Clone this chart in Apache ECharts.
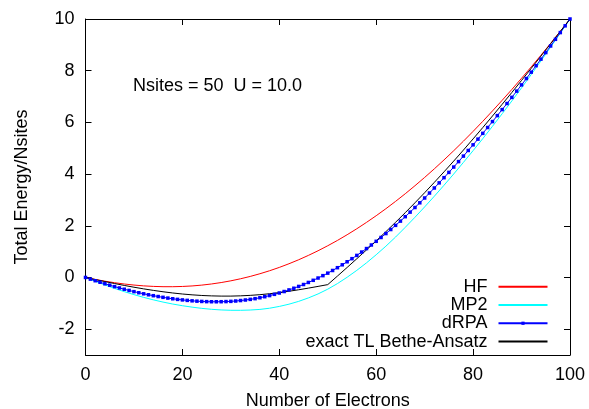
<!DOCTYPE html>
<html>
<head>
<meta charset="utf-8">
<script src="https://cdn.jsdelivr.net/npm/echarts@6/dist/echarts.min.js"></script>
<style>
  html, body { margin: 0; padding: 0; background: #fff; }
  #chart { width: 589px; height: 409px; }
</style>
</head>
<body>
<div id="chart"></div>
<script>
// number of electrons (x) for the line-only curves, every 2
const nEven = [0, 2, 4, 6, 8, 10, 12, 14, 16, 18, 20, 22, 24, 26, 28, 30, 32, 34, 36, 38, 40, 42, 44, 46, 48, 50,
  52, 54, 56, 58, 60, 62, 64, 66, 68, 70, 72, 74, 76, 78, 80, 82, 84, 86, 88, 90, 92, 94, 96, 98, 100]
// dRPA has a point at every electron count
const nAll = [0, 1, 2, 3, 4, 5, 6, 7, 8, 9, 10, 11, 12, 13, 14, 15, 16, 17, 18, 19, 20, 21, 22, 23, 24, 25,
  26, 27, 28, 29, 30, 31, 32, 33, 34, 35, 36, 37, 38, 39, 40, 41, 42, 43, 44, 45, 46, 47, 48, 49, 50,
  51, 52, 53, 54, 55, 56, 57, 58, 59, 60, 61, 62, 63, 64, 65, 66, 67, 68, 69, 70, 71, 72, 73, 74, 75,
  76, 77, 78, 79, 80, 81, 82, 83, 84, 85, 86, 87, 88, 89, 90, 91, 92, 93, 94, 95, 96, 97, 98, 99, 100]

const hf = [0, -0.076, -0.144, -0.203, -0.253, -0.294, -0.325, -0.346, -0.357, -0.358, -0.348, -0.328, -0.296,
  -0.252, -0.197, -0.130, -0.051, 0.040, 0.144, 0.260, 0.389, 0.531, 0.685, 0.853, 1.033, 1.227,
  1.433, 1.653, 1.885, 2.131, 2.389, 2.660, 2.944, 3.240, 3.549, 3.870, 4.203, 4.548, 4.904, 5.272,
  5.652, 6.042, 6.443, 6.854, 7.275, 7.707, 8.147, 8.597, 9.056, 9.524, 10]

const mp2 = [0, -0.146, -0.289, -0.423, -0.548, -0.664, -0.770, -0.866, -0.952, -1.028, -1.093, -1.148, -1.196,
  -1.232, -1.257, -1.270, -1.271, -1.260, -1.236, -1.190, -1.121, -1.034, -0.925, -0.792, -0.637, -0.453,
  -0.237, 0.008, 0.275, 0.566, 0.879, 1.210, 1.564, 1.940, 2.329, 2.730, 3.143, 3.568, 4.004, 4.452,
  4.907, 5.372, 5.848, 6.334, 6.830, 7.336, 7.852, 8.377, 8.911, 9.454, 10]

const drpa = [0, -0.064, -0.126, -0.186, -0.244, -0.299, -0.354, -0.406, -0.456, -0.503, -0.549, -0.591, -0.632,
  -0.670, -0.705, -0.738, -0.769, -0.798, -0.824, -0.848, -0.868, -0.887, -0.904, -0.917, -0.928, -0.935,
  -0.939, -0.940, -0.938, -0.933, -0.925, -0.911, -0.893, -0.872, -0.848, -0.820, -0.784, -0.745, -0.701,
  -0.653, -0.601, -0.544, -0.482, -0.417, -0.347, -0.273, -0.193, -0.110, -0.022, 0.070, 0.167,
  0.270, 0.378, 0.490, 0.607, 0.727, 0.853, 0.983, 1.118, 1.256, 1.399, 1.547, 1.699, 1.855, 2.016,
  2.180, 2.352, 2.528, 2.707, 2.889, 3.075, 3.267, 3.462, 3.660, 3.861, 4.065, 4.272, 4.483, 4.696,
  4.913, 5.132, 5.352, 5.576, 5.802, 6.031, 6.262, 6.495, 6.730, 6.968, 7.209, 7.451, 7.697, 7.944,
  8.194, 8.446, 8.701, 8.956, 9.214, 9.474, 9.736, 10]

const exactTL = [0, -0.080, -0.158, -0.235, -0.308, -0.377, -0.441, -0.500, -0.553, -0.600, -0.640, -0.672, -0.697,
  -0.713, -0.721, -0.721, -0.711, -0.693, -0.666, -0.629, -0.585, -0.534, -0.476, -0.413, -0.346, -0.277,
  0.054, 0.387, 0.724, 1.066, 1.415, 1.771, 2.135, 2.507, 2.889, 3.279, 3.679, 4.087, 4.503, 4.928,
  5.361, 5.800, 6.247, 6.700, 7.159, 7.623, 8.092, 8.565, 9.042, 9.520, 10]

const seriesNames = ['HF', 'MP2', 'dRPA', 'exact TL Bethe-Ansatz']
const yTicks = [-2, 0, 2, 4, 6, 8, 10]
const annotation = 'Nsites = 50  U = 10.0'

const FONT = '"Liberation Sans", Arial, Helvetica, sans-serif'
const FS = 18

const pairs = (xs, ys) => xs.map((x, i) => [x, ys[i]])

const chart = echarts.init(document.getElementById('chart'), null, { renderer: 'canvas' })

const frameAxis = {
  axisLine: { show: true, onZero: false, lineStyle: { color: '#000', width: 1 } },
  axisTick: { show: true, inside: true, length: 6, lineStyle: { color: '#000', width: 1 } },
  splitLine: { show: false }
}

// line-only keys in the legend: hide the marker ECharts puts in the middle
const noMarker = { color: 'transparent', opacity: 0, borderWidth: 0 }

const option = {
  animation: false,
  backgroundColor: '#fff',
  textStyle: { fontFamily: FONT },
  grid: { left: 85.5, right: 19, top: 19, bottom: 54, outerBoundsMode: 'none' },
  xAxis: [{
    ...frameAxis,
    type: 'value', min: 0, max: 100, interval: 20, position: 'bottom',
    axisLabel: { color: '#000', fontSize: FS, fontFamily: FONT, margin: 11 },
    name: 'Number of Electrons', nameLocation: 'middle', nameGap: 37,
    nameTextStyle: { color: '#000', fontSize: FS, fontFamily: FONT }
  }, {
    ...frameAxis,
    type: 'value', min: 0, max: 100, interval: 20, position: 'top',
    axisLabel: { show: false }
  }],
  yAxis: [{
    ...frameAxis,
    type: 'value', min: -3, max: 10, position: 'left',
    axisTick: { ...frameAxis.axisTick, customValues: yTicks },
    axisLabel: { color: '#000', fontSize: FS, fontFamily: FONT, margin: 11, customValues: yTicks },
    name: 'Total Energy/Nsites', nameLocation: 'middle', nameGap: 54,
    nameTextStyle: { color: '#000', fontSize: FS, fontFamily: FONT }
  }, {
    ...frameAxis,
    type: 'value', min: -3, max: 10, position: 'right',
    axisTick: { ...frameAxis.axisTick, customValues: yTicks },
    axisLabel: { show: false }
  }],
  legend: {
    data: [
      { name: seriesNames[0], itemStyle: noMarker },
      { name: seriesNames[1], itemStyle: noMarker },
      { name: seriesNames[2] },
      { name: seriesNames[3], itemStyle: noMarker }
    ],
    orient: 'vertical',
    align: 'right',
    right: 40.5,
    top: 277.5,
    padding: 0,
    itemGap: 0,
    itemWidth: 49,
    itemHeight: 4,
    textStyle: { color: '#000', fontSize: FS, fontFamily: FONT, lineHeight: 18.3, padding: [0, 6, 0, 0] }
  },
  graphic: [{
    type: 'text',
    left: 133,
    top: 77,
    style: { text: annotation, font: `${FS}px ${FONT}`, fill: '#000' }
  }],
  series: [{
    name: seriesNames[0], type: 'line', data: pairs(nEven, hf),
    symbol: 'none', lineStyle: { color: '#ff0000', width: 1 }, itemStyle: { color: '#ff0000' }
  }, {
    name: seriesNames[1], type: 'line', data: pairs(nEven, mp2),
    symbol: 'none', lineStyle: { color: '#00ffff', width: 1 }, itemStyle: { color: '#00ffff' }
  }, {
    name: seriesNames[2], type: 'line', data: pairs(nAll, drpa),
    symbol: 'rect', symbolSize: 3.5, showAllSymbol: true,
    lineStyle: { color: '#0000ff', width: 1 }, itemStyle: { color: '#0000ff' }
  }, {
    name: seriesNames[3], type: 'line', data: pairs(nEven, exactTL),
    symbol: 'none', lineStyle: { color: '#000000', width: 1 }, itemStyle: { color: '#000000' }
  }]
}

chart.setOption(option)
</script>
</body>
</html>
